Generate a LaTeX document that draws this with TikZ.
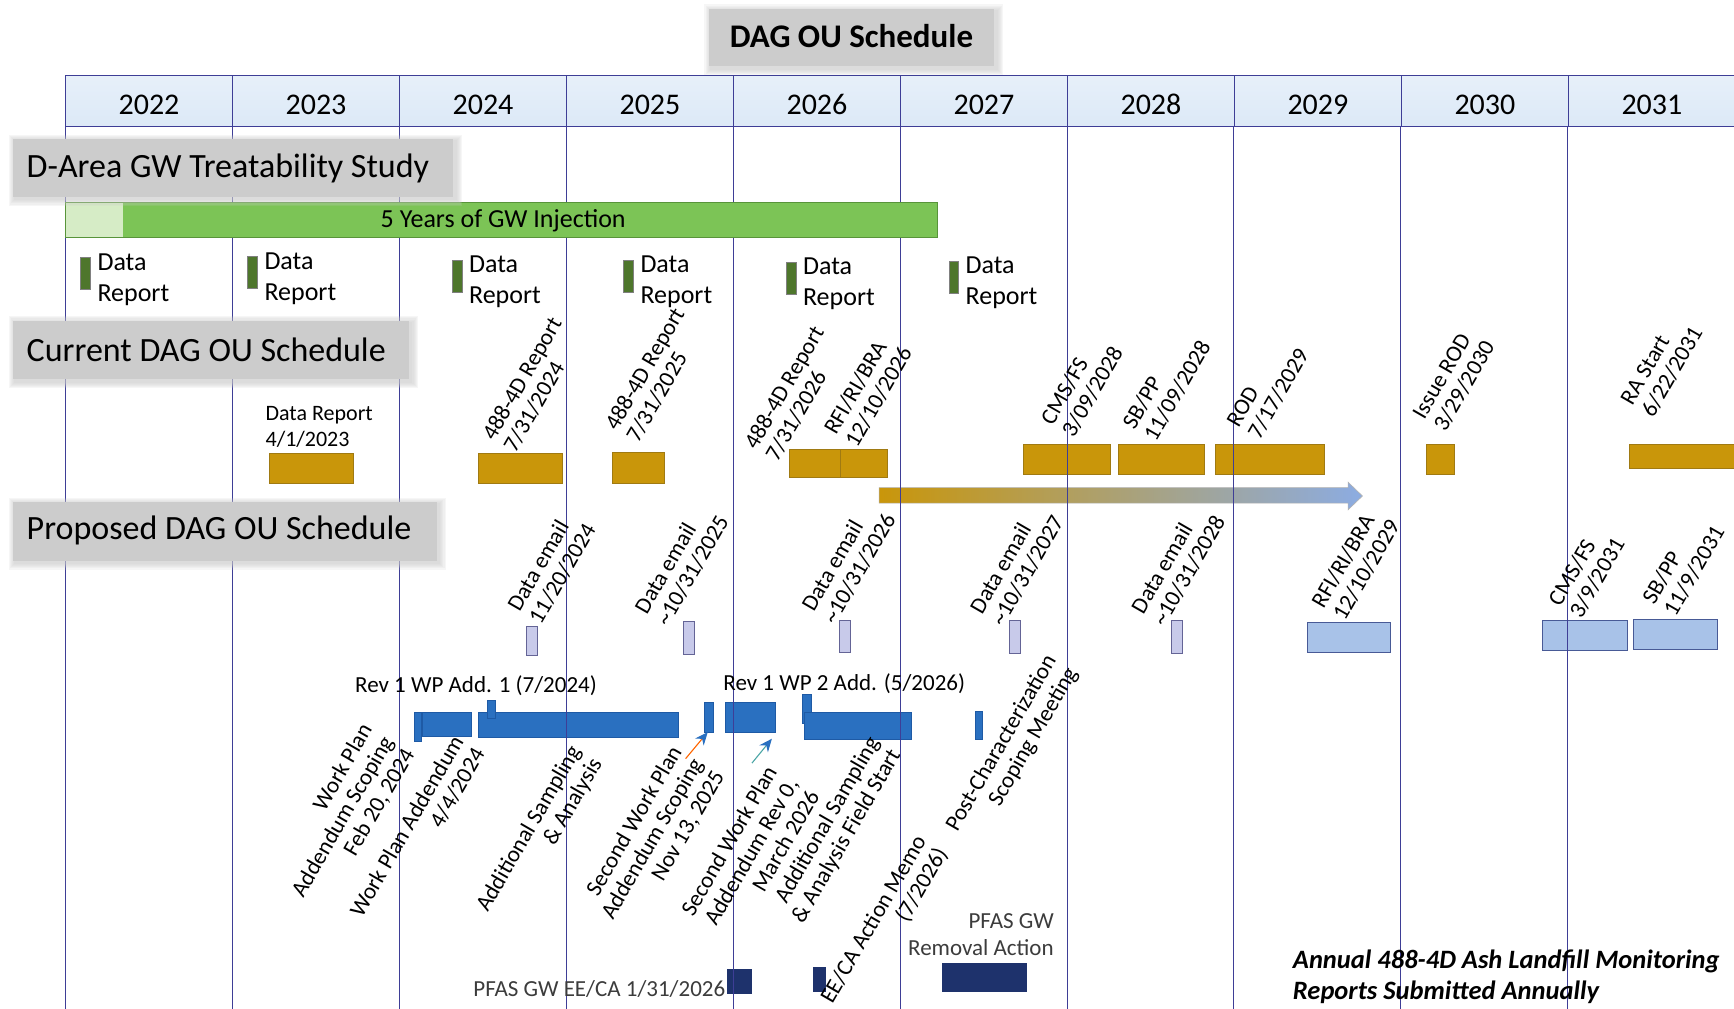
\documentclass[tikz,border=0pt]{standalone}
\usepackage{fontspec}
\setmainfont{Carlito}
\usetikzlibrary{arrows.meta}

\definecolor{gridblue}{RGB}{62,62,150}
\definecolor{hdrblue}{RGB}{220,233,247}
\definecolor{boxgray}{RGB}{204,204,204}
\definecolor{greenbar}{RGB}{124,196,86}
\definecolor{greenlight}{RGB}{214,236,198}
\definecolor{greendark}{RGB}{88,148,58}
\definecolor{markgreen}{RGB}{78,118,44}
\definecolor{gold}{RGB}{201,150,10}
\definecolor{golddark}{RGB}{160,122,18}
\definecolor{arrowblue}{RGB}{140,172,226}
\definecolor{lavender}{RGB}{200,202,234}
\definecolor{lavdark}{RGB}{100,100,150}
\definecolor{paleblue}{RGB}{168,194,232}
\definecolor{paledark}{RGB}{72,90,150}
\definecolor{midblue}{RGB}{42,112,192}
\definecolor{middark}{RGB}{30,90,165}
\definecolor{navy}{RGB}{30,50,108}
\definecolor{txtgray}{RGB}{60,60,60}

% gray heading panel with a soft, blurred edge
\newcommand\softpanel[4]{%
  \foreach \d in {6,5,4,3,2,1}{%
    \fill[boxgray,opacity=0.16] (#1-\d+2,#2-\d+2) rectangle (#3+\d+2,#4+\d+2);}
  \fill[boxgray] (#1,#2) rectangle (#3,#4);}

\begin{document}
\begin{tikzpicture}[x=1.1059pt,y=-1.1059pt,
  grid/.style={draw=gridblue, line width=0.9pt},
  yearcell/.style={draw=gridblue, line width=1pt, top color=hdrblue!70!white, bottom color=hdrblue,
    minimum width=167pt, minimum height=50.9pt, inner sep=0, anchor=north west,
    text height=26pt, text depth=0pt, font=\fontsize{30}{36}\selectfont},
  sectext/.style={anchor=west, inner sep=0, font=\fontsize{34}{40}\selectfont},
  goldbar/.style={fill=gold, draw=golddark, line width=0.8pt},
  lavbar/.style={fill=lavender, draw=lavdark, line width=0.8pt},
  palebar/.style={fill=paleblue, draw=paledark, line width=0.8pt},
  bluebar/.style={fill=midblue, draw=middark, line width=0.8pt},
  navybar/.style={fill=navy},
  marker/.style={fill=markgreen, draw=gray, line width=0.6pt},
  drtext/.style={anchor=west, align=left, inner sep=0, font=\fontsize{26}{31}\selectfont},
  plain/.style={inner sep=0, font=\fontsize{23}{27}\selectfont},
  uplabel/.style={rotate=60, anchor=south west, align=left, inner sep=0, font=\fontsize{23}{24.5}\selectfont},
  downlabel/.style={rotate=60, anchor=south east, align=right, inner sep=0, font=\fontsize{23}{24.5}\selectfont},
  smallarrow/.style={line width=1.1pt, -{Stealth[length=13pt,width=11pt,color=midblue]}}
]
\useasboundingbox (0,0) rectangle (1568,912);
\fill[white] (0,0) rectangle (1568,912);

% year header
\foreach \i/\yr in {0/2022,1/2023,2/2024,3/2025,4/2026,5/2027,6/2028,7/2029,8/2030,9/2031}{
  \node[yearcell] (y\yr) at (58.8+151*\i,68) {\yr};
}

% current schedule bars
\path[goldbar] (244,410) rectangle (320,437);
\path[goldbar] (433,410) rectangle (509,437);
\path[goldbar] (554,409) rectangle (601,437);
\path[goldbar] (714,406) rectangle (760,432);
\path[goldbar] (760,406) rectangle (802,432);
\path[goldbar] (925,402) rectangle (1004,429);
\path[goldbar] (1011,402) rectangle (1089,429);
\path[goldbar] (1099,402) rectangle (1198,429);
\path[goldbar] (1290,402) rectangle (1315,429);
\path[goldbar] (1473,402) rectangle (1575,424);

% schedule shift arrow
\path[left color=gold, right color=arrowblue, draw=gray!60, line width=0.6pt]
  (795,441) -- (1219,441) -- (1219,436) -- (1232,448.5) -- (1219,461) -- (1219,455) -- (795,455) -- cycle;

% proposed schedule bars
\foreach \x/\ya/\yb in {476/566/593,618/562/592,759/561/590,913/561/591,1059/561/591}
  \path[lavbar] (\x,\ya) rectangle ++(10,\yb-\ya);
\path[palebar] (1182,563) rectangle (1257,590);
\path[palebar] (1395,561) rectangle (1472,588);
\path[palebar] (1477,560) rectangle (1553,587);

\path[bluebar] (375,644) rectangle (381,670);
\path[bluebar] (382,644) rectangle (426,666);
\path[bluebar] (433,644) rectangle (613,667);
\path[bluebar] (441,633) rectangle (448,650);
\path[bluebar] (637,635) rectangle (645,662);
\path[bluebar] (656,635) rectangle (701,662);
\path[bluebar] (726,628) rectangle (734,654);
\path[bluebar] (727,644) rectangle (824,669);
\path[bluebar] (882,643) rectangle (888,669);

\path[navybar] (657,876) rectangle (680,899);
\path[navybar] (735,874) rectangle (747,897);
\path[navybar] (852,871) rectangle (929,897);

% small pointer arrows
\coordinate (p1s) at (620,686);
\coordinate (p1e) at (640,662);
\coordinate (p2s) at (680,690);
\coordinate (p2e) at (698,668);
\draw[smallarrow, draw=orange!80!red] (p1s) -- (p1e);
\draw[smallarrow, draw=teal!70] (p2s) -- (p2e);

% year grid lines
\foreach \yr in {2022,2023,2024,2025,2026,2027,2028,2029,2030,2031}
  \draw[grid] (y\yr.south west) -- ++(0,800);

% treatability study bar
\fill[greenlight] (58.8,183) rectangle (111,215);
\fill[greenbar] (111,183) rectangle (848,215);
\draw[greendark, line width=1pt] (58.8,183) rectangle (848,215);
\node[inner sep=0, font=\fontsize{26}{31}\selectfont] (gw) at (455,200) {5 Years of GW Injection};

\foreach \n/\x/\y in {1/73/233,2/224/232,3/409/235,4/564/235,5/711/237,6/858/236}{
  \path[marker] (\x,\y) rectangle ++(9,29);
  \node[drtext] (dr\n) at (\x+15,\y+20) {Data\\Report};
}

% section headings
\softpanel{641}{8}{899}{60}
\node[inner sep=0, font=\fontsize{33}{40}\selectfont\bfseries] (title) at (770,33) {DAG OU Schedule};
\softpanel{12}{126}{410}{178}
\node[sectext] (sec1) at (24,152) {D-Area GW Treatability Study};
\softpanel{12}{290}{370}{343}
\node[sectext] (sec2) at (24,316) {Current DAG OU Schedule};
\softpanel{12}{454}{395}{507}
\node[sectext] (sec3) at (24,480) {Proposed DAG OU Schedule};

% current schedule labels
\node[anchor=west, align=left, inner sep=0, font=\fontsize{22}{26.5}\selectfont] (dr23) at (240,386) {Data Report\\4/1/2023};
\node[uplabel] (c1) at (467,411) {488-4D Report\\7/31/2024};
\node[uplabel] (c2) at (578,402) {488-4D Report\\7/31/2025};
\node[uplabel] (c3) at (704,419) {488-4D Report\\7/31/2026};
\node[uplabel] (c4) at (776,406) {RFI/RI/BRA\\12/10/2026};
\node[uplabel] (c5) at (972,397) {CMS/FS\\3/09/2028};
\node[uplabel] (c6) at (1046,401) {SB/PP\\11/09/2028};
\node[uplabel] (c7) at (1140,399) {ROD\\7/17/2029};
\node[uplabel] (c8) at (1308,392) {Issue ROD\\3/29/2030};
\node[uplabel] (c9) at (1496,379) {RA Start\\6/22/2031};

% proposed schedule labels
\node[uplabel] (q1) at (490,566) {Data email\\11/20/2024};
\node[uplabel] (q2) at (605,568) {Data email\\\textasciitilde10/31/2025};
\node[uplabel] (q3) at (756,566) {Data email\\\textasciitilde10/31/2026};
\node[uplabel] (q4) at (908,568) {Data email\\\textasciitilde10/31/2027};
\node[uplabel] (q5) at (1054,568) {Data email\\\textasciitilde10/31/2028};
\node[uplabel] (q6) at (1217,563) {RFI/RI/BRA\\12/10/2029};
\node[uplabel] (q7) at (1431,561) {CMS/FS\\3/9/2031};
\node[uplabel] (q8) at (1516,559) {SB/PP\\11/9/2031};

\node[plain, anchor=west] (rev1) at (321,620) {Rev 1 WP Add. 1 (7/2024)};
\node[plain, anchor=west] (rev2) at (654,618) {Rev 1 WP 2 Add. (5/2026)};

\node[downlabel] (l1) at (378,683) {Work Plan\\Addendum Scoping\\Feb 20, 2024};
\node[downlabel] (l2) at (440,682) {Work Plan Addendum\\4/4/2024};
\node[downlabel] (l3) at (548,692) {Additional Sampling\\\& Analysis};
\node[downlabel] (l4) at (658,703) {Second Work Plan\\Addendum Scoping\\Nov 13, 2025};
\node[downlabel] (l5) at (742,720) {Second Work Plan\\Addendum Rev 0,\\March 2026};
\node[downlabel] (l6) at (818,684) {Additional Sampling\\\& Analysis Field Start};
\node[downlabel] (l7) at (860,773) {EE/CA Action Memo\\(7/2026)};
\node[downlabel] (l8) at (978,610) {Post-Characterization\\Scoping Meeting};

\node[plain, anchor=east, align=right, text=txtgray] (pfas1) at (953,845) {PFAS GW\\Removal Action};
\node[plain, anchor=east, text=txtgray] (pfas2) at (656,894) {PFAS GW EE/CA 1/31/2026};

\node[anchor=west, align=left, inner sep=0, font=\fontsize{26.5}{31}\selectfont\bfseries\itshape] (annual) at (1169,883)
  {Annual 488-4D Ash Landfill Monitoring\\Reports Submitted Annually};
\end{tikzpicture}
\end{document}
